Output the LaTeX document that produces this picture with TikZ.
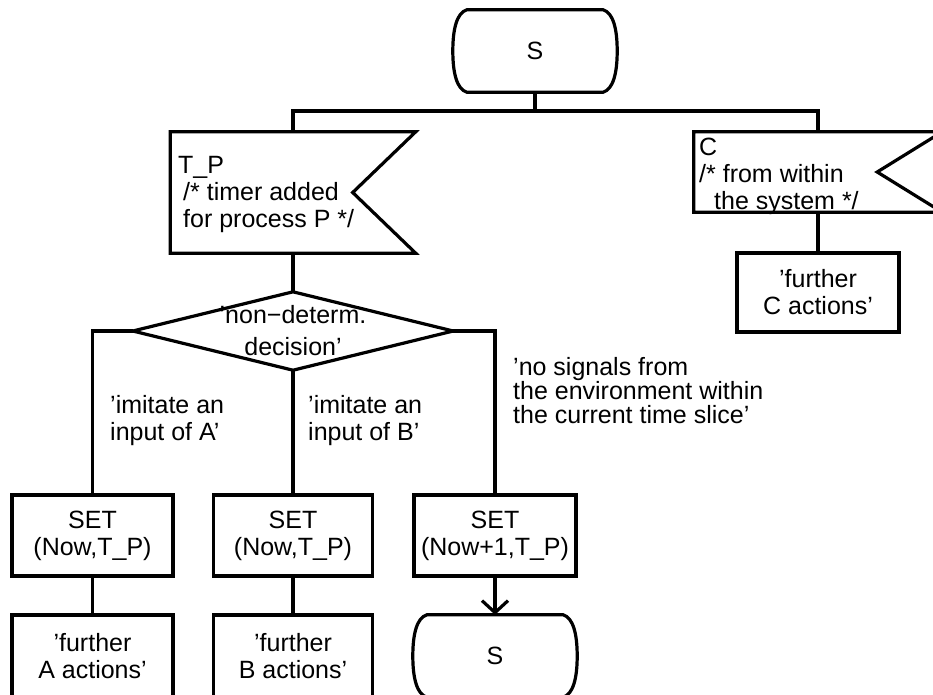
\documentclass[tikz,border=0pt]{standalone}
\usepackage{fontspec}
\setmainfont{Liberation Sans}
\usetikzlibrary{arrows.meta}

% SDL state symbol: flat top and bottom, bulging sides
\newcommand\statesymbol[1]{%
  \draw[conn] (#1.north west) -- (#1.north east)
    .. controls +(10,3) and +(0,-22) .. ([xshift=14pt]#1.east)
    .. controls +(0,22) and +(10,-3) .. (#1.south east)
    -- (#1.south west)
    .. controls +(-10,-3) and +(0,22) .. ([xshift=-14pt]#1.west)
    .. controls +(0,-22) and +(-10,3) .. (#1.north west) -- cycle;}

% SDL input symbol: rectangle with a notch cut into its right side
\newcommand\inputsymbol[2]{%
  \draw[conn] (#1.north west) -- (#1.north east) -- ([xshift=-#2]#1.east)
    -- (#1.south east) -- (#1.south west) -- cycle;}

\begin{document}
\begin{tikzpicture}[x=1pt,y=-1pt,
  every node/.style={font=\fontsize{25}{27}\selectfont},
  conn/.style={line width=3.2pt, line join=miter},
  taskbox/.style={draw, line width=3.2pt, rectangle, inner sep=0pt, align=center},
  stateframe/.style={rectangle, inner sep=0pt, minimum width=136pt, minimum height=82pt},
  signalframe/.style={rectangle, inner sep=0pt},
  branchtext/.style={align=left, inner sep=0pt, anchor=west},
]
\fill[white] (0,0) rectangle (933,694);
\useasboundingbox (0,0) rectangle (933,694);

% start state
\node[stateframe] (s0) at (535,51) {S};
\statesymbol{s0}

% inputs
\node[signalframe, minimum width=245pt, minimum height=121pt] (tp) at (293,192.5) {};
\inputsymbol{tp}{63pt}
\node[branchtext] (tptext) at (178,194)
  {T\_P\\\hspace*{5pt}/* timer added\\\hspace*{5pt}for process P */};

\node[signalframe, minimum width=248pt, minimum height=80pt] (cin) at (818,172) {};
\inputsymbol{cin}{65pt}
\node[branchtext] (cintext) at (699,176)
  {C\\/* from within\\\hspace*{15pt}the system */};

\node[taskbox, minimum width=162pt, minimum height=79pt] (fc) at (818,292.5) {'further\\C actions'};

% decision
\node[rectangle, inner sep=0pt, minimum width=320pt, minimum height=78pt, align=center] (dec) at (293,331)
  {'non−determ.\\[5pt]decision'};
\draw[conn] (dec.west) -- (dec.north) -- (dec.east) -- (dec.south) -- cycle;

% branch labels
\node[branchtext] (la) at (110,421) {'imitate an\\input of A'};
\node[branchtext] (lb) at (308,421) {'imitate an\\input of B'};
\node[branchtext, font=\fontsize{25}{24}\selectfont] (ln) at (513,391)
  {'no signals from\\the environment within\\the current time slice'};

% timer settings
\node[taskbox, minimum width=161pt, minimum height=81pt] (set1) at (92.5,535.5) {SET\\(Now,T\_P)};
\node[taskbox, minimum width=159pt, minimum height=81pt] (set2) at (293,535.5) {SET\\(Now,T\_P)};
\node[taskbox, minimum width=162pt, minimum height=81pt] (set3) at (495,535.5) {SET\\(Now+1,T\_P)};

% continuations
\node[taskbox, minimum width=161pt, minimum height=82pt] (fa) at (92.5,656) {'further\\A actions'};
\node[taskbox, minimum width=159pt, minimum height=82pt] (fb) at (293,656) {'further\\B actions'};
\node[stateframe] (s1) at (495,656) {S};
\statesymbol{s1}

% connectors
\coordinate (bus) at (535,111);
\draw[conn] (s0.south) -- (bus);
\draw[conn] (tp.north) |- (bus) -| (cin.north);
\draw[conn] (tp.south) -- (dec.north);
\draw[conn] (cin.south) -- (fc.north);
\draw[conn] (dec.west) -| (set1.north);
\draw[conn] (dec.south) -- (set2.north);
\draw[conn] (dec.east) -| (set3.north);
\draw[conn] (set1.south) -- (fa.north);
\draw[conn] (set2.south) -- (fb.north);
\draw[conn, -{Straight Barb[length=12pt,width=26pt]}] (set3.south) -- (s1.north);
\end{tikzpicture}
\end{document}
